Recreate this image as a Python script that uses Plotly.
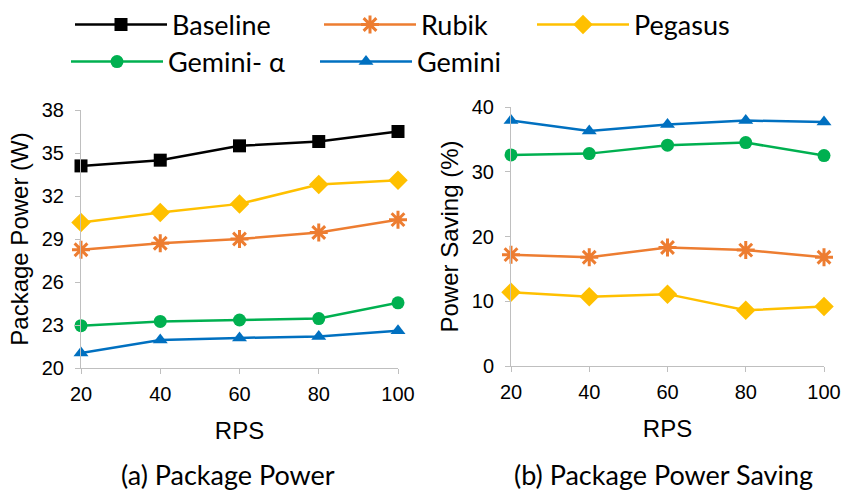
import plotly.graph_objects as go

rps = [20, 40, 60, 80, 100]

power_baseline = [34.1, 34.5, 35.5, 35.8, 36.5]
power_rubik = [28.25, 28.7, 29.0, 29.45, 30.35]
power_pegasus = [30.15, 30.85, 31.45, 32.8, 33.1]
power_gemini_a = [22.95, 23.25, 23.35, 23.45, 24.55]
power_gemini = [21.05, 21.95, 22.1, 22.2, 22.6]

saving_rubik = [17.2, 16.8, 18.3, 17.9, 16.8]
saving_pegasus = [11.4, 10.7, 11.1, 8.6, 9.2]
saving_gemini_a = [32.6, 32.8, 34.1, 34.5, 32.5]
saving_gemini = [37.9, 36.3, 37.3, 37.9, 37.7]

power_ticks = [20, 23, 26, 29, 32, 35, 38]
saving_ticks = [0, 10, 20, 30, 40]

C_BASE = "#000000"
C_RUBIK = "#ED7D31"
C_PEG = "#FFC000"
C_GA = "#00B050"
C_GEM = "#0070C0"

HUMAN = "Lato, Open Sans, sans-serif"
ARIAL = "Liberation Sans, Arial, sans-serif"

fig = go.Figure()

def add(x, y, name, color, symbol, size, xa, ya, legend, show, lw=0):
    fig.add_trace(go.Scatter(
        x=x, y=y, name=name, mode="lines+markers",
        line=dict(color=color, width=2.5),
        marker=dict(color=color, symbol=symbol, size=size,
                    line=dict(color=color, width=lw)),
        xaxis=xa, yaxis=ya, legend=legend, showlegend=show, cliponaxis=False,
    ))

# left panel
add(rps, power_baseline, "Baseline", C_BASE, "square", 13, "x", "y", "legend", True)
add(rps, power_rubik, "Rubik", C_RUBIK, "asterisk-open", 15, "x", "y", "legend", True, 3)
add(rps, power_pegasus, "Pegasus", C_PEG, "diamond", 15, "x", "y", "legend3", True)
add(rps, power_gemini_a, "Gemini- α", C_GA, "circle", 13, "x", "y", "legend2", True)
add(rps, power_gemini, "Gemini", C_GEM, "triangle-up", 13, "x", "y", "legend2", True)

# right panel
add(rps, saving_gemini, "Gemini", C_GEM, "triangle-up", 13, "x2", "y2", "legend2", False)
add(rps, saving_gemini_a, "Gemini- α", C_GA, "circle", 13, "x2", "y2", "legend2", False)
add(rps, saving_rubik, "Rubik", C_RUBIK, "asterisk-open", 15, "x2", "y2", "legend", False, 3)
add(rps, saving_pegasus, "Pegasus", C_PEG, "diamond", 15, "x2", "y2", "legend3", False)

axis_common = dict(
    showgrid=False, zeroline=False, showline=True, linecolor="#BFBFBF", linewidth=1,
    ticks="outside", tickcolor="#BFBFBF", ticklen=5, tickwidth=1, automargin=False,
)
tickf = dict(family=ARIAL, size=20, color="#000")
titlef = dict(family=ARIAL, size=24, color="#000")
legf = dict(family=HUMAN, size=27, color="#000")

leg_common = dict(orientation="h", xanchor="left", yanchor="middle",
                  entrywidth=142, entrywidthmode="pixels", traceorder="normal",
                  itemwidth=92, font=legf, bgcolor="rgba(0,0,0,0)")

fig.update_layout(
    width=845, height=497,
    margin=dict(l=0, r=0, t=0, b=0, autoexpand=False),
    paper_bgcolor="white", plot_bgcolor="white",
    xaxis=dict(domain=[81 / 845, 398 / 845], range=[20, 100], tickvals=rps,
               tickfont=tickf, ticklabelstandoff=3,
               title=dict(text="RPS", font=titlef, standoff=18),
               anchor="y", **axis_common),
    yaxis=dict(domain=[1 - 368 / 497, 1 - 110 / 497], range=[20, 38], tickvals=power_ticks,
               tickfont=tickf, ticklabelstandoff=7,
               title=dict(text="Package Power (W)", font=titlef, standoff=6),
               anchor="x", **axis_common),
    xaxis2=dict(domain=[511 / 845, 824 / 845], range=[20, 100], tickvals=rps,
                tickfont=tickf, ticklabelstandoff=3,
                title=dict(text="RPS", font=titlef, standoff=18),
                anchor="y2", **axis_common),
    yaxis2=dict(domain=[1 - 366 / 497, 1 - 107 / 497], range=[0, 40], tickvals=saving_ticks,
                tickfont=tickf, ticklabelstandoff=7,
                title=dict(text="Power Saving (%)", font=titlef, standoff=6),
                anchor="x2", **axis_common),
    legend=dict(x=70 / 845, y=1 - 25 / 497, **leg_common),
    legend3=dict(x=532 / 845, y=1 - 25 / 497, **leg_common),
    legend2=dict(x=66 / 845, y=1 - 62 / 497, **leg_common),
    annotations=[
        dict(text="(a) Package Power", x=228 / 845, y=1 - 474 / 497, xref="paper", yref="paper",
             xanchor="center", yanchor="middle",
             showarrow=False, font=dict(family=HUMAN, size=27, color="#000")),
        dict(text="(b) Package Power Saving", x=663 / 845, y=1 - 474 / 497, xref="paper", yref="paper",
             xanchor="center", yanchor="middle",
             showarrow=False, font=dict(family=HUMAN, size=27, color="#000")),
    ],
)

fig.write_html("out.html", config={"displayModeBar": False},
               post_script="document.body.style.margin='0';")
